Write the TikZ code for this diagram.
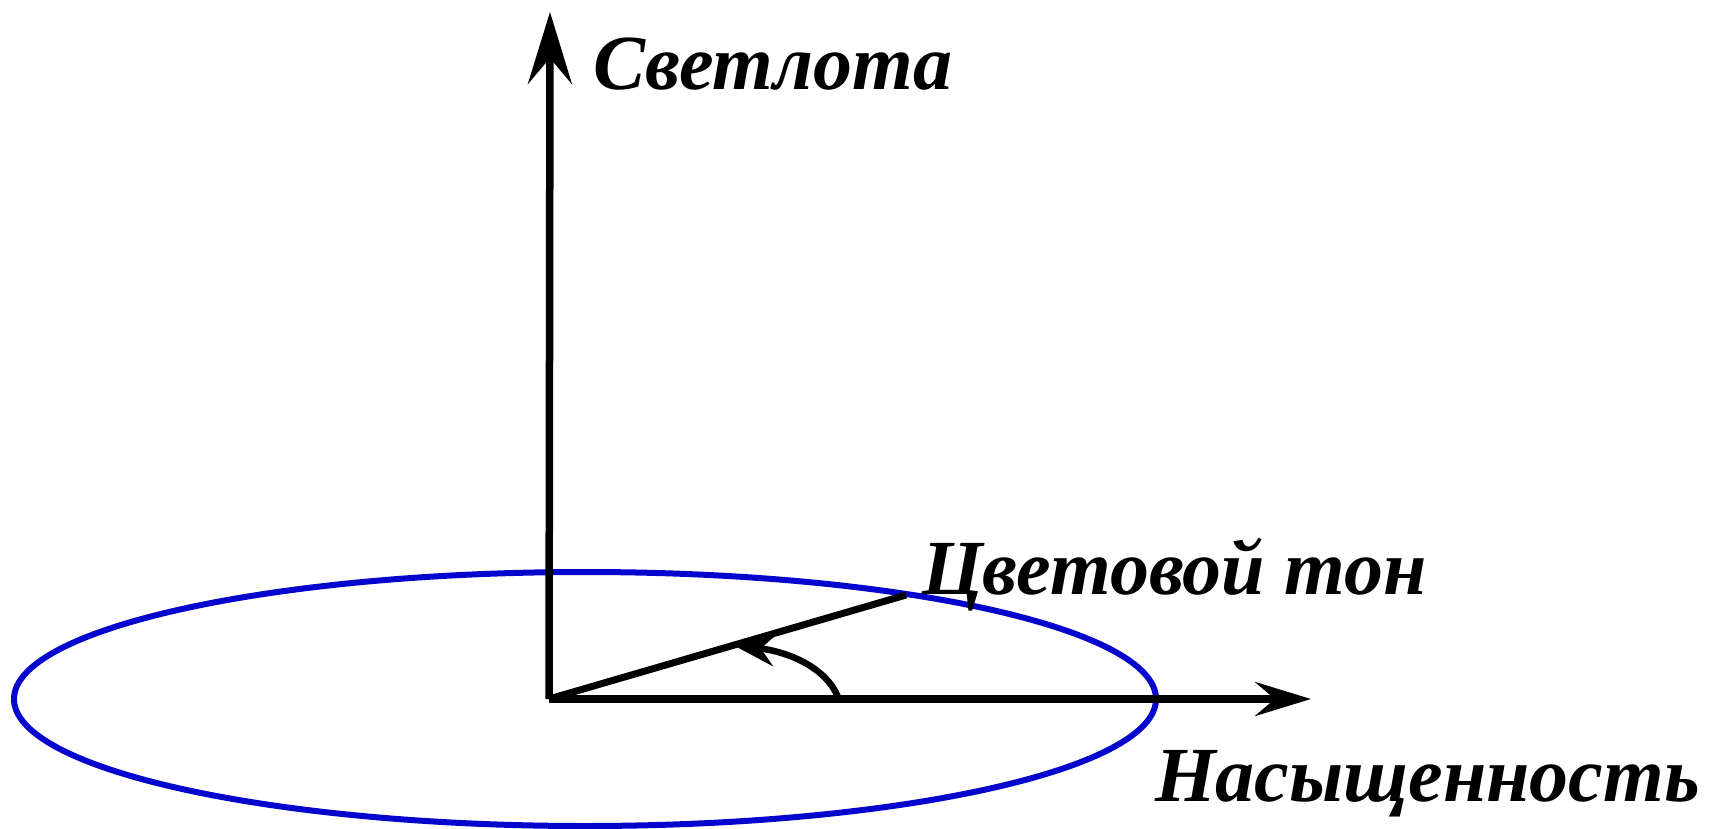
\documentclass[tikz,border=0pt]{standalone}
\usepackage{fontspec}
\setmainfont{Liberation Serif}
\usetikzlibrary{arrows.meta}
\definecolor{ellblue}{RGB}{5,5,205}
\tikzset{
  axisline/.style={line width=7.5pt},
  lbl/.style={font=\fontsize{78}{92}\selectfont\bfseries\itshape, inner sep=0pt, anchor=west},
}
\begin{document}
\begin{tikzpicture}[x=1pt,y=-1pt]
\useasboundingbox (0,0) rectangle (1712,829);
\coordinate (O) at (549,699);
\coordinate (T) at (550,12);
\coordinate (R) at (1311,699);
\coordinate (H) at (906,595);
\coordinate (A1) at (838,697);
\coordinate (A2) at (733,645);
\draw[ellblue, line width=6pt] (585,699) ellipse [x radius=571, y radius=127];
\draw[axisline, -{Stealth[length=72pt,width=44pt,inset=26pt]}] (O) -- (T);
\draw[axisline, -{Stealth[length=56pt,width=34pt,inset=20pt]}] (O) -- (R);
\draw[line width=7pt] (O) -- (H);
\draw[line width=6.5pt, -{Stealth[length=42pt,width=32pt,inset=14pt]}] (A1) .. controls (826,668) and (790,652) .. (A2);
\node[lbl] (sv) at (593,64) {Светлота};
\node[lbl] (ct) at (922,575) {Цветовой тон};
\node[lbl] (ns) at (1155,784) {Насыщенность};
\end{tikzpicture}
\end{document}
